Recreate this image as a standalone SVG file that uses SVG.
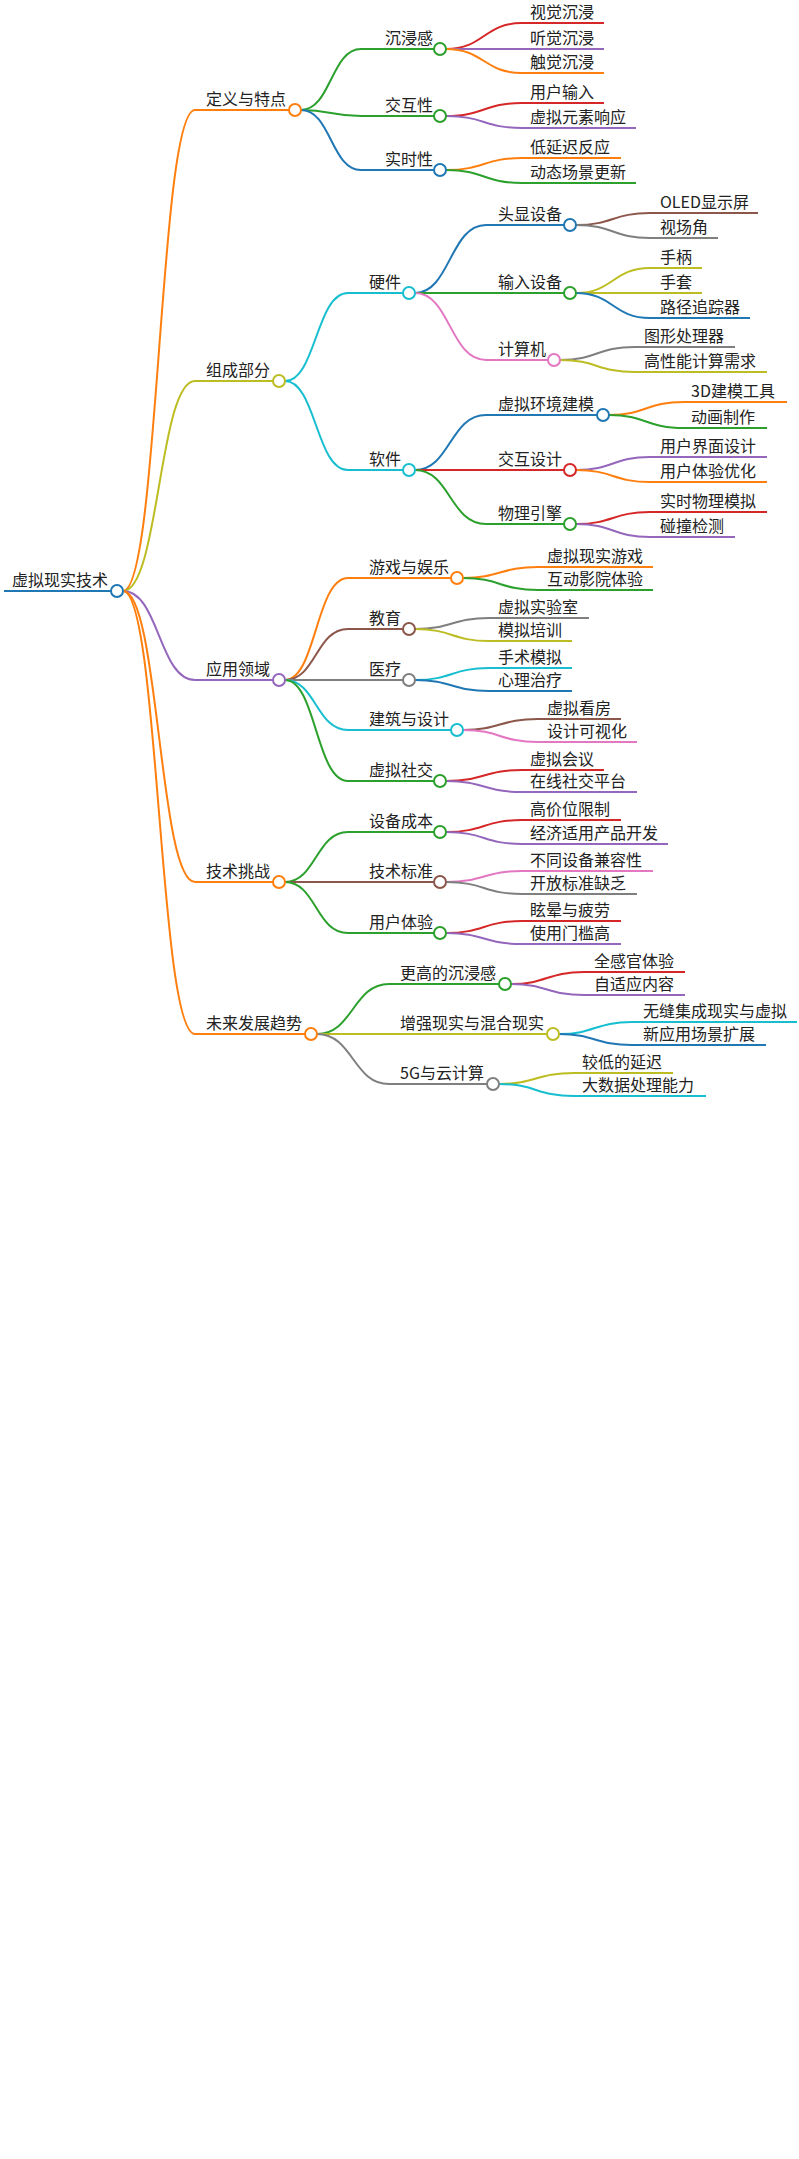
<svg xmlns="http://www.w3.org/2000/svg" width="799" height="2159" viewBox="0 0 799 2159">
<style>
text{font-family:"Noto Sans CJK SC","Noto Sans",sans-serif;font-size:16px;fill:#222}
path,line{fill:none;stroke-width:2}
circle{fill:#fff;stroke-width:2}
.bl{stroke:#1f77b4}.or{stroke:#ff7f0e}.gr{stroke:#2ca02c}.rd{stroke:#d62728}.pu{stroke:#9467bd}.br{stroke:#8c564b}.pk{stroke:#e377c2}.gy{stroke:#7f7f7f}.ol{stroke:#bcbd22}.cy{stroke:#17becf}
</style>
<rect width="799" height="2159" fill="#fff"/>
<g id="connectors">
<path class="or" d="M123 591C159 591 159 110 195 110"/>
<path class="ol" d="M123 591C159 591 159 381 195 381"/>
<path class="pu" d="M123 591C159 591 159 680 195 680"/>
<path class="or" d="M123 591C159 591 159 882 195 882"/>
<path class="or" d="M123 591C159 591 159 1034 195 1034"/>
<path class="gr" d="M301 110C331 110 331 49 361 49"/>
<path class="gr" d="M301 110C331 110 331 116 361 116"/>
<path class="bl" d="M301 110C331 110 331 170 361 170"/>
<path class="rd" d="M446 49C484 49 484 23 522 23"/>
<path class="pu" d="M446 49C484 49 484 49 522 49"/>
<path class="or" d="M446 49C484 49 484 73 522 73"/>
<path class="rd" d="M446 116C484 116 484 103 522 103"/>
<path class="pu" d="M446 116C484 116 484 128 522 128"/>
<path class="or" d="M446 170C484 170 484 158 522 158"/>
<path class="gr" d="M446 170C484 170 484 183 522 183"/>
<path class="cy" d="M285 381C316 381 316 293 348 293"/>
<path class="cy" d="M285 381C316 381 316 470 348 470"/>
<path class="bl" d="M415 293C450 293 450 225 486 225"/>
<path class="gr" d="M415 293C450 293 450 293 486 293"/>
<path class="pk" d="M415 293C450 293 450 360 486 360"/>
<path class="br" d="M576 225C613 225 613 213 650 213"/>
<path class="gy" d="M576 225C613 225 613 238 650 238"/>
<path class="ol" d="M576 293C613 293 613 268 650 268"/>
<path class="ol" d="M576 293C613 293 613 293 650 293"/>
<path class="bl" d="M576 293C613 293 613 318 650 318"/>
<path class="gy" d="M560 360C597 360 597 347 635 347"/>
<path class="ol" d="M560 360C597 360 597 372 635 372"/>
<path class="bl" d="M415 470C450 470 450 415 486 415"/>
<path class="rd" d="M415 470C450 470 450 470 486 470"/>
<path class="gr" d="M415 470C450 470 450 524 486 524"/>
<path class="or" d="M609 415C646 415 646 402 684 402"/>
<path class="gr" d="M609 415C646 415 646 428 684 428"/>
<path class="pu" d="M576 470C613 470 613 457 650 457"/>
<path class="or" d="M576 470C613 470 613 482 650 482"/>
<path class="rd" d="M576 524C613 524 613 512 650 512"/>
<path class="pu" d="M576 524C613 524 613 537 650 537"/>
<path class="or" d="M285 680C316 680 316 578 348 578"/>
<path class="br" d="M285 680C316 680 316 629 348 629"/>
<path class="gy" d="M285 680C316 680 316 680 348 680"/>
<path class="cy" d="M285 680C316 680 316 730 348 730"/>
<path class="gr" d="M285 680C316 680 316 781 348 781"/>
<path class="or" d="M463 578C500 578 500 567 538 567"/>
<path class="gr" d="M463 578C500 578 500 590 538 590"/>
<path class="gy" d="M415 629C452 629 452 618 489 618"/>
<path class="ol" d="M415 629C452 629 452 641 489 641"/>
<path class="cy" d="M415 680C452 680 452 668 489 668"/>
<path class="bl" d="M415 680C452 680 452 691 489 691"/>
<path class="br" d="M463 730C500 730 500 719 538 719"/>
<path class="pk" d="M463 730C500 730 500 742 538 742"/>
<path class="rd" d="M446 781C484 781 484 770 522 770"/>
<path class="pu" d="M446 781C484 781 484 792 522 792"/>
<path class="gr" d="M285 882C316 882 316 832 348 832"/>
<path class="br" d="M285 882C316 882 316 882 348 882"/>
<path class="gr" d="M285 882C316 882 316 933 348 933"/>
<path class="rd" d="M446 832C484 832 484 820 522 820"/>
<path class="pu" d="M446 832C484 832 484 844 522 844"/>
<path class="pk" d="M446 882C484 882 484 871 522 871"/>
<path class="gy" d="M446 882C484 882 484 894 522 894"/>
<path class="rd" d="M446 933C484 933 484 921 522 921"/>
<path class="pu" d="M446 933C484 933 484 944 522 944"/>
<path class="gr" d="M317 1034C353 1034 353 984 389 984"/>
<path class="ol" d="M317 1034C353 1034 353 1034 389 1034"/>
<path class="gy" d="M317 1034C353 1034 353 1084 389 1084"/>
<path class="rd" d="M511 984C547 984 547 972 584 972"/>
<path class="pu" d="M511 984C547 984 547 995 584 995"/>
<path class="cy" d="M559 1034C595 1034 595 1022 632 1022"/>
<path class="bl" d="M559 1034C595 1034 595 1045 632 1045"/>
<path class="ol" d="M499 1084C536 1084 536 1073 574 1073"/>
<path class="cy" d="M499 1084C536 1084 536 1096 574 1096"/>
</g>
<g id="root"><path class="bl" d="M4 591H111" stroke-width="4"/><circle class="bl" cx="117" cy="591" r="6"/><text x="12" y="586">虚拟现实技术</text></g>
<g id="n-def"><path class="or" d="M195 110H289"/><circle class="or" cx="295" cy="110" r="6"/><text x="206" y="105">定义与特点</text></g>
<g id="n-imm"><path class="gr" d="M361 49H434"/><circle class="gr" cx="440" cy="49" r="6"/><text x="385" y="44">沉浸感</text></g>
<g id="l1"><path class="rd" d="M522 23H604"/><text x="530" y="18">视觉沉浸</text></g>
<g id="l2"><path class="pu" d="M522 49H604"/><text x="530" y="44">听觉沉浸</text></g>
<g id="l3"><path class="or" d="M522 73H604"/><text x="530" y="68">触觉沉浸</text></g>
<g id="n-int"><path class="gr" d="M361 116H434"/><circle class="gr" cx="440" cy="116" r="6"/><text x="385" y="111">交互性</text></g>
<g id="l4"><path class="rd" d="M522 103H604"/><text x="530" y="98">用户输入</text></g>
<g id="l5"><path class="pu" d="M522 128H636"/><text x="530" y="123">虚拟元素响应</text></g>
<g id="n-rt"><path class="bl" d="M361 170H434"/><circle class="bl" cx="440" cy="170" r="6"/><text x="385" y="165">实时性</text></g>
<g id="l6"><path class="or" d="M522 158H621"/><text x="530" y="153">低延迟反应</text></g>
<g id="l7"><path class="gr" d="M522 183H636"/><text x="530" y="178">动态场景更新</text></g>
<g id="n-comp"><path class="ol" d="M195 381H273"/><circle class="ol" cx="279" cy="381" r="6"/><text x="206" y="376">组成部分</text></g>
<g id="n-hw"><path class="cy" d="M348 293H403"/><circle class="cy" cx="409" cy="293" r="6"/><text x="369" y="288">硬件</text></g>
<g id="n-hmd"><path class="bl" d="M486 225H564"/><circle class="bl" cx="570" cy="225" r="6"/><text x="498" y="220">头显设备</text></g>
<g id="l8"><path class="br" d="M650 213H758"/><text x="660" y="208">OLED显示屏</text></g>
<g id="l9"><path class="gy" d="M650 238H718"/><text x="660" y="233">视场角</text></g>
<g id="n-inp"><path class="gr" d="M486 293H564"/><circle class="gr" cx="570" cy="293" r="6"/><text x="498" y="288">输入设备</text></g>
<g id="l10"><path class="ol" d="M650 268H702"/><text x="660" y="263">手柄</text></g>
<g id="l11"><path class="ol" d="M650 293H702"/><text x="660" y="288">手套</text></g>
<g id="l12"><path class="bl" d="M650 318H750"/><text x="660" y="313">路径追踪器</text></g>
<g id="n-pc"><path class="pk" d="M486 360H548"/><circle class="pk" cx="554" cy="360" r="6"/><text x="498" y="355">计算机</text></g>
<g id="l13"><path class="gy" d="M635 347H735"/><text x="644" y="342">图形处理器</text></g>
<g id="l14"><path class="ol" d="M635 372H767"/><text x="644" y="367">高性能计算需求</text></g>
<g id="n-sw"><path class="cy" d="M348 470H403"/><circle class="cy" cx="409" cy="470" r="6"/><text x="369" y="465">软件</text></g>
<g id="n-env"><path class="bl" d="M486 415H597"/><circle class="bl" cx="603" cy="415" r="6"/><text x="498" y="410">虚拟环境建模</text></g>
<g id="l15"><path class="or" d="M684 402H787"/><text x="691" y="397">3D建模工具</text></g>
<g id="l16"><path class="gr" d="M684 428H767"/><text x="691" y="423">动画制作</text></g>
<g id="n-idz"><path class="rd" d="M486 470H564"/><circle class="rd" cx="570" cy="470" r="6"/><text x="498" y="465">交互设计</text></g>
<g id="l17"><path class="pu" d="M650 457H767"/><text x="660" y="452">用户界面设计</text></g>
<g id="l18"><path class="or" d="M650 482H767"/><text x="660" y="477">用户体验优化</text></g>
<g id="n-phy"><path class="gr" d="M486 524H564"/><circle class="gr" cx="570" cy="524" r="6"/><text x="498" y="519">物理引擎</text></g>
<g id="l19"><path class="rd" d="M650 512H767"/><text x="660" y="507">实时物理模拟</text></g>
<g id="l20"><path class="pu" d="M650 537H735"/><text x="660" y="532">碰撞检测</text></g>
<g id="n-app"><path class="pu" d="M195 680H273"/><circle class="pu" cx="279" cy="680" r="6"/><text x="206" y="675">应用领域</text></g>
<g id="n-game"><path class="or" d="M348 578H451"/><circle class="or" cx="457" cy="578" r="6"/><text x="369" y="573">游戏与娱乐</text></g>
<g id="l21"><path class="or" d="M538 567H653"/><text x="547" y="562">虚拟现实游戏</text></g>
<g id="l22"><path class="gr" d="M538 590H653"/><text x="547" y="585">互动影院体验</text></g>
<g id="n-edu"><path class="br" d="M348 629H403"/><circle class="br" cx="409" cy="629" r="6"/><text x="369" y="624">教育</text></g>
<g id="l23"><path class="gy" d="M489 618H589"/><text x="498" y="613">虚拟实验室</text></g>
<g id="l24"><path class="ol" d="M489 641H572"/><text x="498" y="636">模拟培训</text></g>
<g id="n-med"><path class="gy" d="M348 680H403"/><circle class="gy" cx="409" cy="680" r="6"/><text x="369" y="675">医疗</text></g>
<g id="l25"><path class="cy" d="M489 668H572"/><text x="498" y="663">手术模拟</text></g>
<g id="l26"><path class="bl" d="M489 691H572"/><text x="498" y="686">心理治疗</text></g>
<g id="n-arch"><path class="cy" d="M348 730H451"/><circle class="cy" cx="457" cy="730" r="6"/><text x="369" y="725">建筑与设计</text></g>
<g id="l27"><path class="br" d="M538 719H621"/><text x="547" y="714">虚拟看房</text></g>
<g id="l28"><path class="pk" d="M538 742H637"/><text x="547" y="737">设计可视化</text></g>
<g id="n-soc"><path class="gr" d="M348 781H434"/><circle class="gr" cx="440" cy="781" r="6"/><text x="369" y="776">虚拟社交</text></g>
<g id="l29"><path class="rd" d="M522 770H604"/><text x="530" y="765">虚拟会议</text></g>
<g id="l30"><path class="pu" d="M522 792H637"/><text x="530" y="787">在线社交平台</text></g>
<g id="n-chal"><path class="or" d="M195 882H273"/><circle class="or" cx="279" cy="882" r="6"/><text x="206" y="877">技术挑战</text></g>
<g id="n-cost"><path class="gr" d="M348 832H434"/><circle class="gr" cx="440" cy="832" r="6"/><text x="369" y="827">设备成本</text></g>
<g id="l31"><path class="rd" d="M522 820H621"/><text x="530" y="815">高价位限制</text></g>
<g id="l32"><path class="pu" d="M522 844H668"/><text x="530" y="839">经济适用产品开发</text></g>
<g id="n-std"><path class="br" d="M348 882H434"/><circle class="br" cx="440" cy="882" r="6"/><text x="369" y="877">技术标准</text></g>
<g id="l33"><path class="pk" d="M522 871H653"/><text x="530" y="866">不同设备兼容性</text></g>
<g id="l34"><path class="gy" d="M522 894H637"/><text x="530" y="889">开放标准缺乏</text></g>
<g id="n-ux"><path class="gr" d="M348 933H434"/><circle class="gr" cx="440" cy="933" r="6"/><text x="369" y="928">用户体验</text></g>
<g id="l35"><path class="rd" d="M522 921H621"/><text x="530" y="916">眩晕与疲劳</text></g>
<g id="l36"><path class="pu" d="M522 944H621"/><text x="530" y="939">使用门槛高</text></g>
<g id="n-fut"><path class="or" d="M195 1034H305"/><circle class="or" cx="311" cy="1034" r="6"/><text x="206" y="1029">未来发展趋势</text></g>
<g id="n-hi"><path class="gr" d="M389 984H499"/><circle class="gr" cx="505" cy="984" r="6"/><text x="400" y="979">更高的沉浸感</text></g>
<g id="l37"><path class="rd" d="M584 972H685"/><text x="594" y="967">全感官体验</text></g>
<g id="l38"><path class="pu" d="M584 995H685"/><text x="594" y="990">自适应内容</text></g>
<g id="n-ar"><path class="ol" d="M389 1034H547"/><circle class="ol" cx="553" cy="1034" r="6"/><text x="400" y="1029">增强现实与混合现实</text></g>
<g id="l39"><path class="cy" d="M632 1022H797"/><text x="643" y="1017">无缝集成现实与虚拟</text></g>
<g id="l40"><path class="bl" d="M632 1045H766"/><text x="643" y="1040">新应用场景扩展</text></g>
<g id="n-5g"><path class="gy" d="M389 1084H487"/><circle class="gy" cx="493" cy="1084" r="6"/><text x="400" y="1079">5G与云计算</text></g>
<g id="l41"><path class="ol" d="M574 1073H673"/><text x="582" y="1068">较低的延迟</text></g>
<g id="l42"><path class="cy" d="M574 1096H706"/><text x="582" y="1091">大数据处理能力</text></g>
</svg>
